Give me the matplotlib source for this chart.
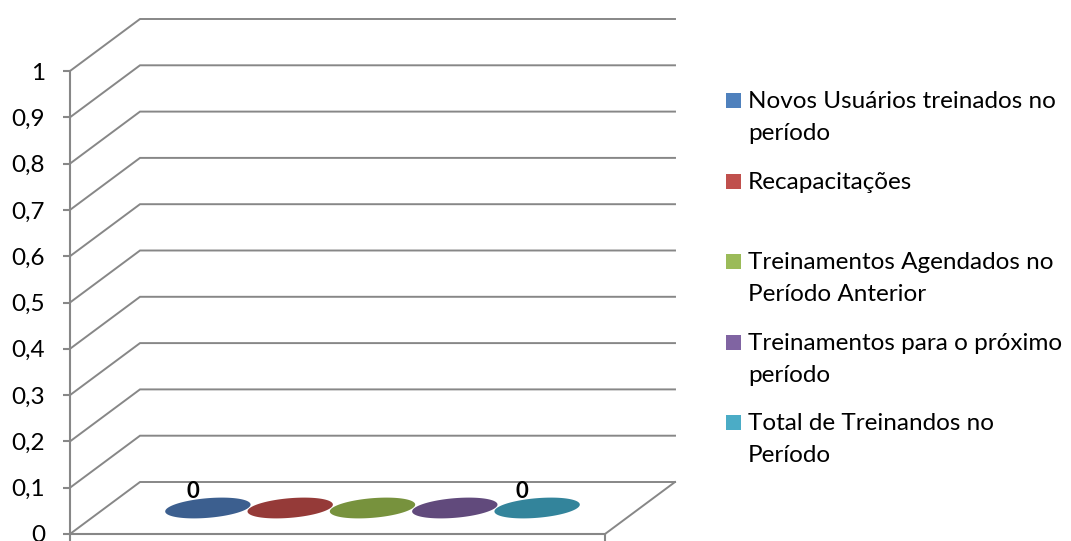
import matplotlib
matplotlib.use("Agg")
import matplotlib.pyplot as plt
import numpy as np
from matplotlib.patches import Polygon, Rectangle
from matplotlib.ticker import FuncFormatter

# ---------------- data ----------------
series = [
    "Novos Usuários treinados no\nperíodo",
    "Recapacitações",
    "Treinamentos Agendados no\nPeríodo Anterior",
    "Treinamentos para o próximo\nperíodo",
    "Total de Treinandos no\nPeríodo",
]
values = [0, 0, 0, 0, 0]
show_label = [True, False, False, False, True]
legend_colors = ["#4F81BD", "#C0504D", "#9BBB59", "#8064A2", "#4BACC6"]
top_colors = ["#3C5F8F", "#953A38", "#77923D", "#614A7C", "#33849B"]
yticks = np.round(np.arange(0, 1.01, 0.1), 1)

# ---------------- style ----------------
plt.rcParams["font.family"] = ["Lato", "DejaVu Sans"]
GRID = "#878787"
W, H = 1071, 541
fig = plt.figure(figsize=(W / 100, H / 100), dpi=100)
fig.patch.set_facecolor("white")

XMAX = 6.5
ax = fig.add_axes([70 / W, 7 / H, 535 / W, 463 / H])
ax.set_xlim(0, XMAX)
ax.set_ylim(0, 1)
ax.set_facecolor("none")

# depth offset (in data units) of the 3-D back wall
DX = 70 / 535 * XMAX
DY = 52 / 463

for s in ["top", "right"]:
    ax.spines[s].set_visible(False)
for s in ["left", "bottom"]:
    ax.spines[s].set_color(GRID)
    ax.spines[s].set_linewidth(1.5)

ax.set_yticks(yticks)
ax.yaxis.set_major_formatter(FuncFormatter(lambda v, p: ("%g" % v).replace(".", ",")))
ax.tick_params(axis="y", length=5, width=1.5, color=GRID, labelsize=17.5, pad=13, direction="out")
ax.set_xticks([0, XMAX])
ax.set_xticklabels([])
ax.tick_params(axis="x", length=5, width=1.5, color=GRID, direction="out")

# gridlines on side + back walls
for v in yticks:
    ax.plot([0, DX, XMAX + DX], [v, v + DY, v + DY], color=GRID, lw=1.4,
            clip_on=False, zorder=1, solid_joinstyle="miter")
# floor right edge
ax.plot([XMAX, XMAX + DX], [0, DY], color=GRID, lw=1.4, clip_on=False, zorder=1)

# cylinders (zero height -> only top face visible)
n = len(values)
gap = XMAX - n
centers = gap / 2 + 0.5 + np.arange(n)
r, rd = 0.49, 0.2
t = np.linspace(0, 2 * np.pi, 200)
for i, (xc, v) in enumerate(zip(centers, values)):
    d = 0.5 + rd * np.sin(t)
    X = xc + r * np.cos(t) + d * DX
    Y = v + d * DY
    ax.add_patch(Polygon(np.column_stack([X, Y]), closed=True, facecolor=top_colors[i],
                         edgecolor="none", clip_on=False, zorder=3 + i))
    if show_label[i]:
        ax.annotate(("%g" % v).replace(".", ","), (xc, v), xytext=(20, 42),
                    textcoords="offset pixels", ha="center", va="center",
                    fontsize=16, fontweight="bold", color="black", zorder=10)

# legend (drawn manually to mimic Excel spacing)
for i, (lab, col) in enumerate(zip(series, legend_colors)):
    base = 108 + 80.6 * i
    fig.add_artist(Rectangle((726 / W, 1 - base / H), 15 / W, 15 / H,
                             transform=fig.transFigure, facecolor=col, edgecolor="none"))
    for j, line in enumerate(lab.split("\n")):
        fig.text(748 / W, 1 - (base + 32 * j) / H, line, fontsize=17.5,
                 ha="left", va="baseline", color="black")

fig.savefig("out.png", dpi=100, facecolor="white")
